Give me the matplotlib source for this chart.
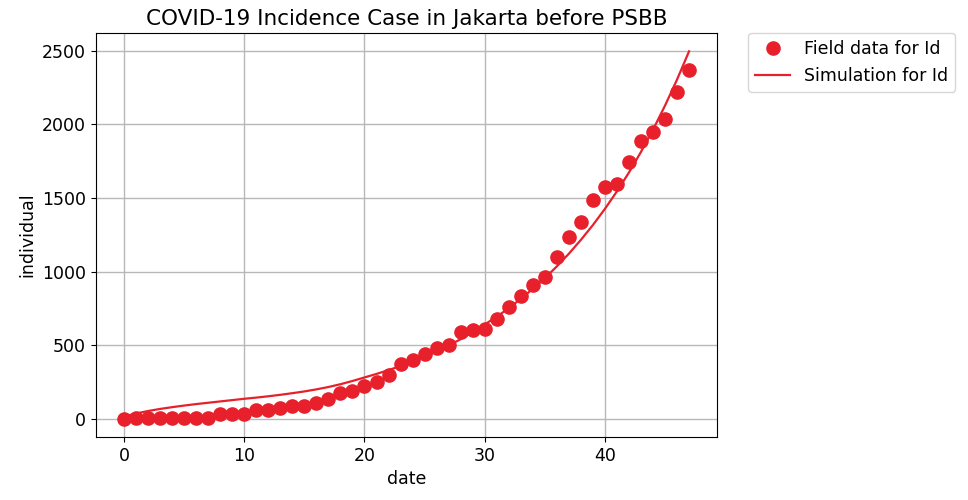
import numpy as np
import matplotlib
matplotlib.use('Agg')
import matplotlib.pyplot as plt

# daily cumulative incidence in Jakarta (field data)
days = np.arange(48)
field_id = [0, 1, 2, 2, 3, 3, 3, 4, 30, 31, 33, 56, 58, 75, 88, 86, 108, 131, 174, 189,
            222, 250, 298, 370, 400, 440, 480, 501, 588, 603, 607, 678, 761, 837, 909, 964,
            1100, 1232, 1336, 1485, 1572, 1592, 1744, 1890, 1946, 2034, 2218, 2367]

# model output for Id
sim_id = [15, 35, 52, 66, 78, 89, 99, 108, 117, 126, 135, 143, 152, 162, 173, 185,
          199, 215, 234, 256, 280, 304, 330, 358, 389, 422, 458, 497, 540, 588, 640,
          693, 751, 814, 882, 955, 1035, 1121, 1215, 1316, 1426, 1545, 1673, 1813,
          1964, 2128, 2305, 2497]

red = '#e8202b'

fig = plt.figure(figsize=(9.68, 5.0), dpi=100)
ax = fig.add_axes([0.099, 0.126, 0.642, 0.808])
ax.plot(days, field_id, 'o', color=red, markersize=9.5, label='Field data for Id')
ax.plot(days, sim_id, '-', color=red, linewidth=1.6, label='Simulation for Id')
ax.grid(True, color='#b8b8b8', linewidth=1.0)
ax.set_title('COVID-19 Incidence Case in Jakarta before PSBB', fontsize=15.5)
ax.set_xlabel('date', fontsize=12.5)
ax.set_ylabel('individual', fontsize=12.5)
ax.tick_params(labelsize=12.5)
ax.set_xticks([0, 10, 20, 30, 40])
ax.legend(loc='upper left', bbox_to_anchor=(1.05, 1.0), borderaxespad=0.0, fontsize=12.5)

fig.savefig('out.png', dpi=100)
